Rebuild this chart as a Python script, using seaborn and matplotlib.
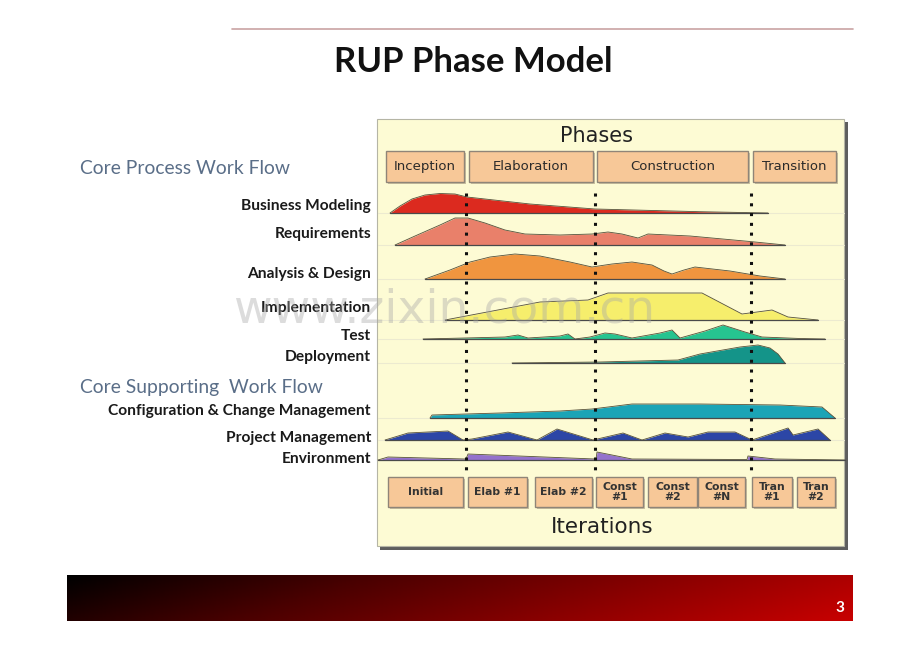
import matplotlib
matplotlib.use("Agg")
import matplotlib.pyplot as plt
import seaborn as sns
import numpy as np
import pandas as pd
from matplotlib.patches import Rectangle
from matplotlib.colors import LinearSegmentedColormap

# ---- data (x = time along the project, h = effort) ----
phase_names = ["Inception", "Elaboration", "Construction", "Transition"]
phase_edges = [(386, 464), (469, 593), (597, 748), (753, 836)]
milestones = [466, 595, 751]

iter_names = ["Initial", "Elab #1", "Elab #2", "Const\n#1", "Const\n#2", "Const\n#N", "Tran\n#1", "Tran\n#2"]
iter_edges = [(388, 463), (468, 527), (535, 592), (596, 643), (648, 697), (698, 745), (752, 792), (797, 835)]

bm_x = [390, 400, 412, 425, 440, 455, 467, 530, 595, 700, 768]
bm_h = [0, 7, 14, 18, 19.5, 19, 16, 9, 4, 1.3, 0]

req_x = [395, 415, 440, 455, 468, 485, 505, 525, 560, 592, 608, 622, 638, 648, 690, 750, 785]
req_h = [0, 9, 20, 27, 27, 22, 15, 11, 10, 11, 13, 11, 7, 11, 9, 3.5, 0]

ad_x = [425, 450, 470, 490, 515, 540, 570, 592, 612, 632, 652, 664, 672, 684, 695, 730, 760, 785]
ad_h = [0, 9, 17, 22, 25, 23, 17, 12, 15, 17, 14, 8, 5, 9, 12, 8, 3, 0]

impl_x = [445, 540, 588, 608, 702, 742, 772, 788, 818]
impl_h = [0, 18, 20, 27, 27, 6, 10, 3, 0]

test_x = [423, 465, 505, 518, 528, 560, 568, 575, 590, 605, 615, 632, 660, 672, 680, 705, 723, 745, 762, 800, 825]
test_h = [0, 1, 2, 4, 1, 3, 5, 0, 2, 6, 5, 1, 6, 9, 1, 8, 14, 7, 2, 0.5, 0]

dep_x = [512, 600, 678, 700, 740, 758, 770, 778, 785]
dep_h = [0, 1, 3, 9, 16, 18, 15, 9, 0]

cfg_x = [430, 432, 500, 560, 592, 632, 700, 780, 822, 835]
cfg_h = [0, 3, 5, 7, 9, 14, 14, 13, 11, 0]

pm_x = [385, 408, 448, 463, 472, 508, 537, 557, 593, 623, 642, 665, 688, 708, 735, 752, 788, 793, 818, 830]
pm_h = [0, 7, 9, 0, 1, 8, 0, 11, 0, 7, 0, 7, 3, 8, 8, 0, 12, 5, 11, 0]

env_x = [378, 388, 465, 466, 468, 595, 596, 597, 632, 745, 747, 748, 775, 845]
env_h = [0, 3, 1, 1, 6, 1, 1, 8, 1, 0.5, 0.5, 4, 1, 0]

core_labels = ["Business Modeling", "Requirements", "Analysis & Design",
               "Implementation", "Test", "Deployment"]
support_labels = ["Configuration & Change Management", "Project Management", "Environment"]

workflows = [
    (bm_x, bm_h, 213, "#dc2a1f"),
    (req_x, req_h, 245, "#e9806a"),
    (ad_x, ad_h, 279, "#f0953f"),
    (impl_x, impl_h, 320, "#f6ee6c"),
    (test_x, test_h, 339, "#26c490"),
    (dep_x, dep_h, 363, "#149489"),
    (cfg_x, cfg_h, 418, "#1ba4b6"),
    (pm_x, pm_h, 440, "#2c46a6"),
    (env_x, env_h, 460, "#9472cc"),
]
label_y = [206, 234, 274, 308, 336, 357, 411, 438, 459]

sns.set_theme(style="white")
plt.rcParams["font.family"] = ["Lato", "DejaVu Sans"]

fig = plt.figure(figsize=(9.2, 6.52), dpi=100)
ax = fig.add_axes([0, 0, 1, 1])

# top rule + title
ax.plot([232, 853], [29, 29], color="#c9a3a3", lw=1.2)
ax.text(473, 62, "RUP Phase Model", ha="center", va="center", fontsize=25,
        fontweight="bold", color="#111111")

# panel with shadow
ax.add_patch(Rectangle((380, 122), 468, 428, fc="#5e5e5e", ec="none", zorder=1))
ax.add_patch(Rectangle((377, 119), 467, 427, fc="#fdfbd4", ec="#b5b5a5", lw=0.8, zorder=2))

ax.text(597, 136, "Phases", ha="center", va="center", fontsize=15,
        family="DejaVu Sans", color="#222222", zorder=5)
for name, (x0, x1) in zip(phase_names, phase_edges):
    ax.add_patch(Rectangle((x0 + 2, 153), x1 - x0, 31, fc="#c9c0a0", ec="none", zorder=3))
    ax.add_patch(Rectangle((x0, 151), x1 - x0, 31, fc="#f7c898", ec="#8f8578", lw=1, zorder=4))
    ax.text((x0 + x1) / 2, 166.5, name, ha="center", va="center", fontsize=9.5,
            family="DejaVu Sans", color="#2a2a2a", zorder=5)

# faint row guides
for _, _, base, _ in workflows:
    ax.plot([378, 844], [base, base], color="#ecead0", lw=0.8, zorder=3)

# workflow humps
for xs, hs, base, col in workflows:
    top = [base - h for h in hs]
    ax.fill_between(xs, [base] * len(xs), top, color=col, lw=0, zorder=6)
    df = pd.DataFrame({"x": xs, "y": top})
    sns.lineplot(data=df, x="x", y="y", ax=ax, color="#55503a", lw=0.6,
                 estimator=None, sort=False, zorder=7)
    ax.plot([xs[0], xs[-1]], [base, base], color="#4a4a4a", lw=0.9, zorder=7)

# milestone dotted lines
for mx in milestones:
    ax.plot([mx, mx], [193, 472], color="#111111", lw=2.2,
            linestyle=(0, (1, 2.2)), zorder=8)

# iterations
for name, (x0, x1) in zip(iter_names, iter_edges):
    ax.add_patch(Rectangle((x0 + 2, 479), x1 - x0, 30, fc="#c9c0a0", ec="none", zorder=3))
    ax.add_patch(Rectangle((x0, 477), x1 - x0, 30, fc="#f7c898", ec="#8f8578", lw=1, zorder=4))
    ax.text((x0 + x1) / 2, 492, name, ha="center", va="center", fontsize=7.8,
            family="DejaVu Sans", fontweight="bold", color="#333333",
            linespacing=1.05, zorder=5)
ax.text(602, 527, "Iterations", ha="center", va="center", fontsize=15.5,
        family="DejaVu Sans", color="#222222", zorder=5)

# left labels
ax.text(80, 168, "Core Process Work Flow", ha="left", va="center", fontsize=13.9,
        color="#5a6e88")
ax.text(80, 387, "Core Supporting  Work Flow", ha="left", va="center", fontsize=13.9,
        color="#5a6e88")
for name, ly in zip(core_labels + support_labels, label_y):
    ax.text(371, ly, name, ha="right", va="center", fontsize=11.2,
            fontweight="bold", color="#1a1a1a")

# watermark
ax.text(444, 310, "www.zixin.com.cn", ha="center", va="center", fontsize=34,
        family="DejaVu Sans", color="#a8a8a8", alpha=0.4, zorder=20)

# footer gradient bar
cmap = LinearSegmentedColormap.from_list("foot", ["#000000", "#4a0000", "#8a0000", "#c80000"])
gx = np.linspace(0, 1, 400)
gy = np.linspace(0, 1, 40)
grad = 0.85 * gx[None, :] + 0.15 * gy[:, None]
ax.imshow(grad, cmap=cmap, extent=(67, 853, 621, 575), aspect="auto", zorder=2)
ax.text(840, 608, "3", ha="center", va="center", fontsize=11, fontweight="bold",
        color="white", zorder=5)

ax.set_xlim(0, 920)
ax.set_ylim(652, 0)
ax.axis("off")

fig.savefig("out.png", dpi=100, facecolor="white")
